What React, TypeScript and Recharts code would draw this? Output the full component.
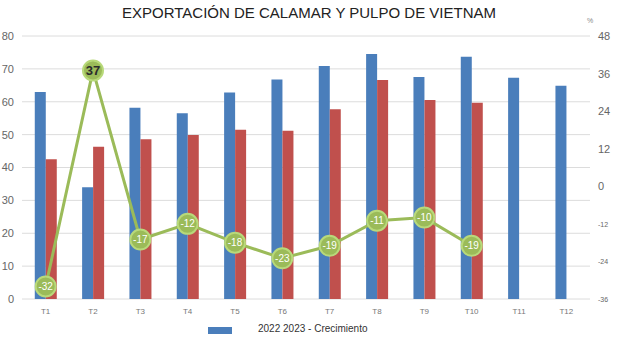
import { ComposedChart, Bar, Line, XAxis, YAxis, CartesianGrid, Legend, LabelList } from 'recharts';

const categories = ['T1', 'T2', 'T3', 'T4', 'T5', 'T6', 'T7', 'T8', 'T9', 'T10', 'T11', 'T12'];
const exports2022 = [63, 34, 58.2, 56.5, 62.8, 66.8, 70.9, 74.5, 67.5, 73.7, 67.3, 64.9];
const exports2023 = [42.5, 46.3, 48.6, 49.9, 51.5, 51.2, 57.7, 66.6, 60.5, 59.7, null, null];
const growth = [-32, 37, -17, -12, -18, -23, -19, -11, -10, -19, null, null];
const leftTicks = [0, 10, 20, 30, 40, 50, 60, 70, 80];
const rightTicks = [-36, -24, -12, 0, 12, 24, 36, 48];

const data = categories.map((name, i) => ({
  name,
  y2022: exports2022[i],
  y2023: exports2023[i],
  growth: growth[i],
}));

const BLUE = '#4a7ebb';
const RED = '#c0504d';
const GREEN = '#9bbb59';

const GrowthLabel = (props: any) => {
  const { x, y, value } = props;
  if (value == null) return null;
  const big = value > 0;
  return (
    <text
      x={x}
      y={y}
      dy={big ? 4.5 : 3.5}
      textAnchor="middle"
      fontSize={big ? 13 : 10}
      fontWeight={big ? 'bold' : 'normal'}
      fill={big ? '#2b2b2b' : '#ffffff'}
      fontFamily="Liberation Sans, Arial, sans-serif"
    >
      {value}
    </text>
  );
};

const RightTick = (props: any) => {
  const { x, y, payload } = props;
  const small = payload.value < 0;
  return (
    <text x={x} y={y} dy={small ? 3 : 4} textAnchor="start" fontSize={small ? 7 : 11} fill="#666"
      fontFamily="Liberation Sans, Arial, sans-serif">
      {payload.value}
    </text>
  );
};

const LegendBox = () => (
  <div style={{ position: 'relative', height: 22, fontFamily: 'Liberation Sans, Arial, sans-serif' }}>
    <div style={{ position: 'absolute', left: 208, top: 8, width: 24, height: 7, background: BLUE }} />
    <div style={{ position: 'absolute', left: 258, top: 4, fontSize: 10, color: '#333' }}>
      2022 2023 - Crecimiento
    </div>
  </div>
);

const App = () => {
  return (
    <div style={{ position: 'absolute', left: 0, top: 0, width: 618, height: 344, background: '#fff' }}>
      <div
        style={{
          position: 'absolute',
          left: 0,
          top: 4,
          width: 618,
          textAlign: 'center',
          fontSize: 15,
          color: '#222',
          fontFamily: 'Liberation Sans, Arial, sans-serif',
        }}
      >
        EXPORTACIÓN DE CALAMAR Y PULPO DE VIETNAM
      </div>
      <div style={{ position: 'absolute', left: 587, top: 17, fontSize: 7, color: '#888', fontFamily: 'Liberation Sans, Arial, sans-serif' }}>%</div>
      <ComposedChart
        width={618}
        height={344}
        data={data}
        margin={{ top: 36, right: 0, bottom: 3, left: 0 }}
        barCategoryGap="27%"
        barGap={0}
      >
        <CartesianGrid vertical={false} stroke="#dcdcdc" yAxisId="left" />
        <XAxis
          dataKey="name"
          axisLine={false}
          tickLine={false}
          tickSize={0}
          tickMargin={9}
          height={20}
          tick={{ fontSize: 8, fill: '#777', fontFamily: 'Liberation Sans, Arial, sans-serif' }}
          interval={0}
        />
        <YAxis
          yAxisId="left"
          domain={[0, 80]}
          ticks={leftTicks}
          width={22}
          axisLine={false}
          tickLine={false}
          tickSize={0}
          tickMargin={8}
          tick={{ fontSize: 11, fill: '#666', fontFamily: 'Liberation Sans, Arial, sans-serif' }}
        />
        <YAxis
          yAxisId="right"
          orientation="right"
          domain={[-36, 48]}
          ticks={rightTicks}
          width={28}
          axisLine={false}
          tickLine={false}
          tickSize={0}
          tickMargin={8}
          tick={<RightTick />}
        />
        <Legend verticalAlign="bottom" height={22} content={() => <LegendBox />} />
        <Bar yAxisId="left" dataKey="y2022" fill={BLUE} isAnimationActive={false} />
        <Bar yAxisId="left" dataKey="y2023" fill={RED} isAnimationActive={false} />
        <Line
          yAxisId="right"
          dataKey="growth"
          stroke={GREEN}
          strokeWidth={3}
          dot={{ r: 10, fill: GREEN, stroke: '#b8d97a', strokeWidth: 2 }}
          activeDot={false}
          isAnimationActive={false}
        >
          <LabelList dataKey="growth" content={<GrowthLabel />} />
        </Line>
      </ComposedChart>
    </div>
  );
};

export default App;
